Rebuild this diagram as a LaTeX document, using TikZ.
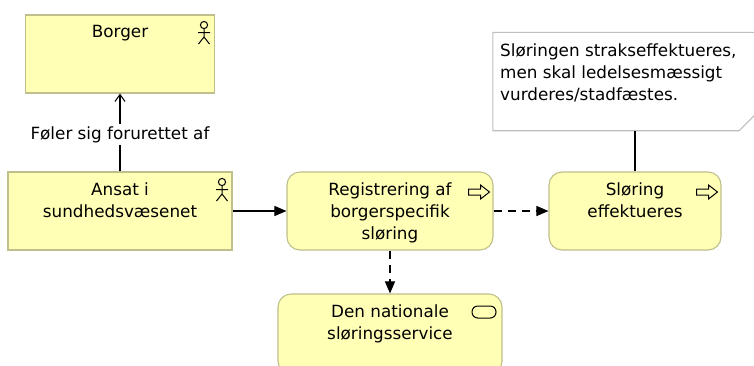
\documentclass[tikz,border=0pt]{standalone}
\usepackage{fontspec}
\setmainfont{DejaVu Sans}
\usetikzlibrary{arrows.meta}
\definecolor{elemfill}{HTML}{FFFFB5}
\definecolor{elemline}{HTML}{BFBF8C}
\definecolor{noteline}{HTML}{BDBDBD}
\tikzset{
  elembox/.style={draw=elemline,fill=elemfill,line width=1.1pt,minimum height=78pt,inner sep=0pt},
  actorbox/.style={elembox},
  procbox/.style={elembox,rounded corners=13pt},
  elemtext/.style={anchor=north,align=center,inner sep=0pt,font=\fontsize{16.8}{21.8}\selectfont},
  conn/.style={line width=1.05pt,black},
  flowline/.style={conn,-{Triangle[length=12pt,width=10pt]}},
  trigline/.style={flowline,dash pattern=on 8pt off 6pt},
  actoricon/.pic={
    \draw[line width=1pt] (0,4) circle (3.6pt);
    \draw[line width=1pt] (0,7.6) -- (0,16) (-6,11.5) -- (6,11.5) (-5.5,23) -- (0,16) -- (5.5,23);
  },
  procicon/.pic={
    \draw[line width=1pt,fill=elemfill] (-10.5,-3) -- (1.5,-3) -- (1.5,-7) -- (10.5,0) -- (1.5,7) -- (1.5,3) -- (-10.5,3) -- cycle;
  },
  serviceicon/.pic={
    \draw[line width=1pt,fill=elemfill,rounded corners=5.8pt] (-12,-6) rectangle (12,6);
  }
}
\begin{document}
\begin{tikzpicture}[x=1pt,y=-1pt]
\useasboundingbox (0,0) rectangle (754,365);
\clip (0,0) rectangle (754,365);
\node[actorbox,minimum width=189pt] (borger) at (120,54) {};
\node[actorbox,minimum width=224pt] (ansat) at (120,211) {};
\node[procbox,minimum width=206pt] (registrering) at (390,211) {};
\node[procbox,minimum width=172pt] (sloering) at (635,211) {};
\node[procbox,minimum width=224pt,minimum height=80pt] (service) at (390,334) {};
\node[minimum width=276pt,minimum height=98pt,inner sep=0pt] (note) at (631,81.5) {};
\filldraw[draw=noteline,fill=white,line width=1.1pt] (note.north west) -- (note.north east) -- ([yshift=30pt]note.south east) -- ([xshift=-30pt]note.south east) -- (note.south west) -- cycle;
\node[elemtext] (borgertxt) at ([yshift=-11pt]borger.north) {Borger};
\node[elemtext] (ansattxt) at ([yshift=-11pt]ansat.north) {Ansat i\\sundhedsvæsenet};
\node[elemtext] (registreringtxt) at ([yshift=-11pt]registrering.north) {Registrering af\\borgerspecifik\\sløring};
\node[elemtext] (sloeringtxt) at ([yshift=-11pt]sloering.north) {Sløring\\effektueres};
\node[elemtext] (servicetxt) at ([yshift=-11pt]service.north) {Den nationale\\sløringsservice};
\node[elemtext,anchor=north west,align=left] (notetxt) at (500,44) {Sløringen strakseffektueres,\\men skal ledelsesmæssigt\\vurderes/stadfæstes.};
\pic at (204,21) {actoricon};
\pic at (222,178) {actoricon};
\pic at (479,192) {procicon};
\pic at (707,192) {procicon};
\pic at (484,312) {serviceicon};
\draw[conn,-{Straight Barb[length=7pt,width=10pt]}] (ansat.north) -- (borger.south) node[pos=.475,fill=white,inner sep=2pt,font=\fontsize{16.8}{17}\selectfont] (forurettet) {Føler sig forurettet af};
\draw[flowline] (ansat.east) -- (registrering.west);
\draw[trigline] (registrering.east) -- (sloering.west);
\draw[trigline] (registrering.south) -- (service.north);
\draw[conn] (sloering.north) -- (sloering.north |- note.south);
\end{tikzpicture}
\end{document}
